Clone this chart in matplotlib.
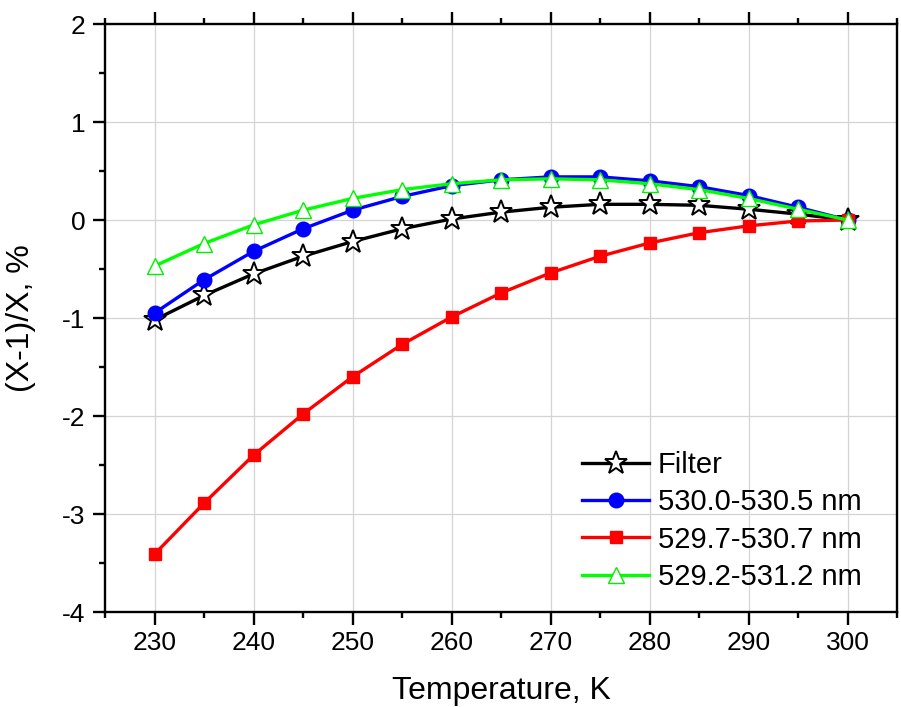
import matplotlib
matplotlib.use("Agg")

import matplotlib.pyplot as plt
from matplotlib.ticker import MultipleLocator

plt.rcParams["font.family"] = ["Liberation Sans", "DejaVu Sans"]
plt.rcParams["axes.unicode_minus"] = False

# ---------------- DATA ----------------
temps = [230, 235, 240, 245, 250, 255, 260, 265, 270, 275, 280, 285, 290, 295, 300]

filter_vals = [-1.02, -0.77, -0.55, -0.37, -0.22, -0.09, 0.01, 0.08, 0.13, 0.16,
               0.16, 0.15, 0.11, 0.06, 0.00]
band_530_0 = [-0.95, -0.61, -0.32, -0.09, 0.10, 0.24, 0.35, 0.41, 0.44, 0.44,
              0.40, 0.34, 0.25, 0.13, 0.00]
band_529_7 = [-3.41, -2.89, -2.40, -1.98, -1.60, -1.27, -0.99, -0.745, -0.54, -0.37,
              -0.235, -0.13, -0.06, -0.01, 0.00]
band_529_2 = [-0.47, -0.24, -0.05, 0.10, 0.22, 0.31, 0.37, 0.41, 0.42, 0.41,
              0.37, 0.31, 0.22, 0.11, 0.00]

labels = ["Filter", "530.0-530.5 nm", "529.7-530.7 nm", "529.2-531.2 nm"]

# ---------------- PLOT ----------------
fig = plt.figure(figsize=(9.01, 7.07), dpi=100)
ax = fig.add_axes([105 / 901, 1 - 612 / 707, 792 / 901, 588 / 707])

lw = 2.4
ax.plot(temps, filter_vals, color="black", lw=lw, marker="*", ms=17,
        mfc="white", mec="black", mew=1.4, label=labels[0], zorder=3)
ax.plot(temps, band_530_0, color="#0000ff", lw=lw, marker="o", ms=10.5,
        mfc="#0000ff", mec="#0000ff", label=labels[1], zorder=3)
ax.plot(temps, band_529_7, color="#ff0000", lw=lw, marker="s", ms=8,
        mfc="#ff0000", mec="#ff0000", label=labels[2], zorder=3)
ax.plot(temps, band_529_2, color="#00ff00", lw=lw, marker="^", ms=12,
        mfc="white", mec="#00ee00", mew=1.0, label=labels[3], zorder=4)

ax.set_xlim(225, 305)
ax.set_ylim(-4, 2)
ax.xaxis.set_major_locator(MultipleLocator(10))
ax.xaxis.set_minor_locator(MultipleLocator(5))
ax.yaxis.set_major_locator(MultipleLocator(1))
ax.yaxis.set_minor_locator(MultipleLocator(0.5))

ax.grid(True, which="major", color="#d4d4d4", linewidth=0.9)
ax.set_axisbelow(True)

for sp in ax.spines.values():
    sp.set_linewidth(1.7)

ax.tick_params(which="both", direction="out", width=1.7, labelsize=19,
               top=True, right=False, labeltop=False)
ax.tick_params(which="major", length=9, pad=5)
ax.tick_params(which="minor", length=4.5)

ax.set_xlabel("Temperature, K", fontsize=23, labelpad=15)
ax.set_ylabel("(X-1)/X, %", fontsize=23, labelpad=19)

leg = ax.legend(loc="lower right", frameon=False, fontsize=21,
                handlelength=2.3, handletextpad=0.3, labelspacing=0.32,
                borderaxespad=0.0, bbox_to_anchor=(0.97, 0.016))

fig.savefig("out.png", dpi=100)
